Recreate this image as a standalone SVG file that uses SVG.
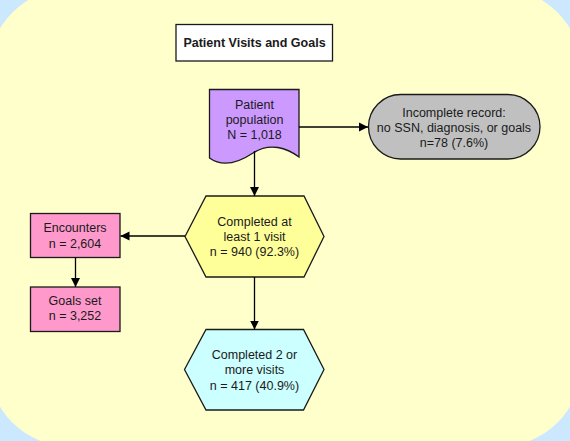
<svg xmlns="http://www.w3.org/2000/svg" width="570" height="441" viewBox="0 0 570 441">
<defs>
<style>
.s{stroke:#1a1a1a;stroke-width:1.3}
.t{font-family:"Liberation Sans",Arial,sans-serif;font-size:12.5px;fill:#1a1a1a;text-anchor:middle}
.c{stroke:#000;stroke-width:1.3;fill:none;marker-end:url(#ah)}
</style>
<marker id="ah" markerWidth="10" markerHeight="10" refX="9" refY="5" orient="auto" markerUnits="userSpaceOnUse">
<path d="M0,0.5 L9,5 L0,9.5 Z" fill="#000"/>
</marker>
</defs>
<rect x="0" y="0" width="570" height="441" fill="#cce8ff"/>
<rect x="-11" y="-11" width="592" height="457" rx="80" ry="80" fill="#ffffcc"/>
<g id="title">
<rect class="s" x="176" y="24.5" width="156.5" height="36.5" fill="#ffffff"/>
<text class="t" x="254.5" y="46.8" font-weight="bold">Patient Visits and Goals</text>
</g>
<g id="population">
<path class="s" d="M209.5,89.5 H299 V157 C287,148 270,142 253,153 C238,163 222,167 209.5,158 Z" fill="#cc99ff"/>
<text class="t" x="254.5" y="108.5">Patient</text>
<text class="t" x="254.5" y="123.5">population</text>
<text class="t" x="254.5" y="138.5">N = 1,018</text>
</g>
<g id="incomplete">
<rect class="s" x="368.5" y="94.5" width="171.5" height="64.5" rx="32.25" ry="32.25" fill="#c0c0c0"/>
<text class="t" x="454" y="116.5">Incomplete record:</text>
<text class="t" x="454" y="131.5">no SSN, diagnosis, or goals</text>
<text class="t" x="454" y="146.5">n=78 (7.6%)</text>
</g>
<g id="visit1">
<polygon class="s" points="185,236.5 206,196 304,196 324,236.5 304,277 206,277" fill="#ffff99"/>
<text class="t" x="254.5" y="226">Completed at</text>
<text class="t" x="254.5" y="240.5">least 1 visit</text>
<text class="t" x="254.5" y="255.5">n = 940 (92.3%)</text>
</g>
<g id="encounters">
<rect class="s" x="30.5" y="213.5" width="89.5" height="44" fill="#ff99cc"/>
<text class="t" x="75" y="232">Encounters</text>
<text class="t" x="75" y="247.5">n = 2,604</text>
</g>
<g id="goals">
<rect class="s" x="30.5" y="287" width="89.5" height="44.5" fill="#ff99cc"/>
<text class="t" x="75" y="304.5">Goals set</text>
<text class="t" x="75" y="319.5">n = 3,252</text>
</g>
<g id="visit2">
<polygon class="s" points="184.5,369.5 206,329.5 303.5,329.5 324,369.5 303.5,410 206,410" fill="#ccffff"/>
<text class="t" x="254.5" y="358.5">Completed 2 or</text>
<text class="t" x="254.5" y="374">more visits</text>
<text class="t" x="254.5" y="389.5">n = 417 (40.9%)</text>
</g>
<g id="connectors">
<path class="c" d="M299,127 H368"/>
<path class="c" d="M254.5,151 V196"/>
<path class="c" d="M185,236 H120.5"/>
<path class="c" d="M75.5,257.5 V287"/>
<path class="c" d="M254.5,277 V329.5"/>
</g>
</svg>
